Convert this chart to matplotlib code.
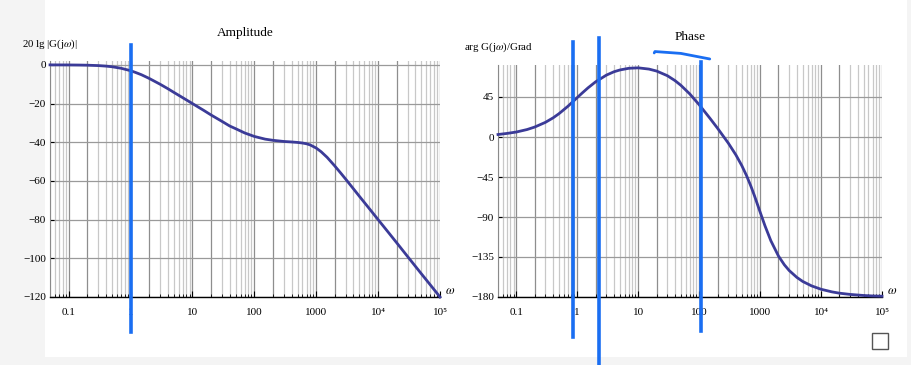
import matplotlib
matplotlib.use("Agg")
import matplotlib.pyplot as plt
from matplotlib.patches import Rectangle
from matplotlib.ticker import FixedLocator, NullFormatter
import matplotlib.transforms as mtransforms

plt.rcParams['font.family'] = ['Liberation Serif', 'DejaVu Serif']
plt.rcParams['mathtext.fontset'] = 'stix'

# ---------------- data ----------------
omega = [0.05, 0.07, 0.1, 0.15, 0.2, 0.3, 0.4, 0.5, 0.7, 1, 1.2, 1.5, 2, 3, 4, 5, 7, 10, 15, 20, 30,
         40, 50, 70, 100, 150, 200, 300, 400, 500, 600, 700, 800, 1000, 1200, 1500, 2000,
         2500, 3000, 4000, 5000, 7000, 1e4, 1.5e4, 2e4, 3e4, 5e4, 7e4, 1e5]
amplitude_db = [0.0, -0.02, -0.04, -0.1, -0.17, -0.37, -0.64, -0.97, -1.74, -3.0, -3.9, -5.1, -7.0,
                -10.0, -12.3, -14.2, -17.0, -20.0, -23.4, -25.9, -29.2,
                -31.6, -33.0, -35.2, -37.0, -38.4, -39.0, -39.6, -39.85, -40.1, -40.4, -40.8, -41.4,
                -43.0, -44.9, -47.8, -52.3,
                -56.0, -59.1, -64.1, -68.0, -73.8, -80.0, -87.0, -92.0, -99.1, -108.0, -113.8, -120.0]
phase_deg = [2.8, 4.0, 5.6, 8.4, 11.2, 16.5, 21.5, 26.2, 34.5, 44.4, 49.4, 55.3, 62.1, 69.6, 73.4,
             75.4, 77.3, 77.8, 76.4, 74.2, 69.0,
             63.5, 58.2, 48.5, 36.3, 21.1, 9.9, -6.8, -20.1, -32.1, -43.6, -54.7, -65.3,
             -84.4, -99.8, -116.7, -133.9,
             -143.8, -150.2, -157.9, -162.5, -167.5, -171.3, -174.2, -175.7, -177.1, -178.3,
             -178.8, -179.1]

x_ticks = [0.1, 1, 10, 100, 1000, 1e4, 1e5]
x_ticklabels = ['0.1', '1', '10', '100', '1000', '10\u2074', '10\u2075']
amp_yticks = [0, -20, -40, -60, -80, -100, -120]
phase_yticks = [45, 0, -45, -90, -135, -180]

# hand-drawn marker annotations (omega positions)
amp_marks = [1.0]
phase_marks = [0.86, 2.29, 108]
phase_stroke_w = [18.3, 18.8, 50, 149]

# ---------------- figure ----------------
W, H = 912, 365
fig = plt.figure(figsize=(W / 100, H / 100), dpi=100, facecolor='#f4f4f4')
fig.patches.append(Rectangle((45 / W, 8 / H), (907 - 45) / W, 1 - 8 / H,
                             transform=fig.transFigure, facecolor='white',
                             edgecolor='none', zorder=-10))


def box(l, r, t, b):
    return [l / W, 1 - b / H, (r - l) / W, (b - t) / H]


ax1 = fig.add_axes(box(50, 440, 61, 297))
ax2 = fig.add_axes(box(498, 882, 65, 297))

curve_color = '#3b3b98'
mark_color = '#1a6ef2'

minor_dark = []
minor_light = []
for d in range(-2, 5):
    for k in range(2, 10):
        v = k * 10.0 ** d
        if 0.05 <= v <= 1e5:
            (minor_dark if k == 2 else minor_light).append(v)


def style(ax, yticks, ylim):
    ax.set_xscale('log')
    ax.set_xlim(0.05, 1e5)
    ax.set_ylim(*ylim)
    for v in minor_light:
        ax.axvline(v, color='#c8c8c8', lw=0.9, zorder=0)
    for v in minor_dark + x_ticks:
        ax.axvline(v, color='#8e8e8e', lw=0.9, zorder=0)
    for v in yticks:
        ax.axhline(v, color='#9a9a9a', lw=0.9, zorder=0)
    for s in ['top', 'right']:
        ax.spines[s].set_visible(False)
    ax.spines['left'].set_color('#8a8a8a')
    ax.spines['bottom'].set_color('black')
    ax.spines['bottom'].set_linewidth(1.0)
    ax.xaxis.set_major_locator(FixedLocator(x_ticks))
    ax.xaxis.set_minor_locator(FixedLocator(minor_dark + minor_light))
    ax.xaxis.set_minor_formatter(NullFormatter())
    ax.set_xticklabels(x_ticklabels)
    ax.set_yticks(yticks)
    ax.set_yticklabels([('\u2212' + str(-v)) if v < 0 else str(v) for v in yticks])
    ax.tick_params(axis='x', which='major', direction='in', length=4, width=0.8,
                   labelsize=8, pad=8)
    ax.tick_params(axis='x', which='minor', direction='in', length=2, width=0.6)
    ax.tick_params(axis='y', direction='in', length=3, width=0.8, labelsize=8, pad=3)
    ax.set_facecolor('none')
    ax.text(1.025, 0.0, r'$\omega$', transform=ax.transAxes, fontsize=9,
            ha='center', va='bottom')


style(ax1, amp_yticks, (-120, 2))
style(ax2, phase_yticks, (-180, 81))

ax1.plot(omega, amplitude_db, color=curve_color, lw=2, zorder=3, clip_on=False)
ax2.plot(omega, phase_deg, color=curve_color, lw=2, zorder=3, clip_on=False)

fig.text(245 / W, 1 - 33 / H, 'Amplitude', fontsize=9.5, ha='center', va='center')
fig.text(690 / W, 1 - 37 / H, 'Phase', fontsize=9.5, ha='center', va='center')
ax1.text(0.0, 1.0 + 10 / 236, r'20 lg |G(j$\omega$)|', transform=ax1.transAxes,
         fontsize=7.8, ha='center', va='bottom')
ax2.text(0.0, 1.0 + 11 / 232, r'arg G(j$\omega$)/Grad', transform=ax2.transAxes,
         fontsize=7.8, ha='center', va='bottom')

# hand-drawn vertical marker lines
ax1.axvline(amp_marks[0], ymin=-0.148, ymax=1.068, color=mark_color, lw=2.6,
            clip_on=False, zorder=5)
ax2.axvline(phase_marks[0], ymin=-0.172, ymax=1.099, color=mark_color, lw=2.6,
            clip_on=False, zorder=5)
ax2.axvline(phase_marks[1], ymin=-0.30, ymax=1.116, color=mark_color, lw=2.6,
            clip_on=False, zorder=5)
ax2.axvline(phase_marks[2], ymin=-0.147, ymax=1.013, color=mark_color, lw=2.6,
            clip_on=False, zorder=5)
blend = mtransforms.blended_transform_factory(ax2.transData, ax2.transAxes)
ax2.plot(phase_stroke_w, [1.052, 1.058, 1.050, 1.026], color=mark_color, lw=2,
         transform=blend, clip_on=False, zorder=5, solid_capstyle='round')

# checkbox
fig.patches.append(Rectangle((872 / W, 1 - 349 / H), 16 / W, 16 / H,
                             transform=fig.transFigure, facecolor='white',
                             edgecolor='#555555', lw=1.0))

fig.savefig('out.png', dpi=100, facecolor=fig.get_facecolor())
